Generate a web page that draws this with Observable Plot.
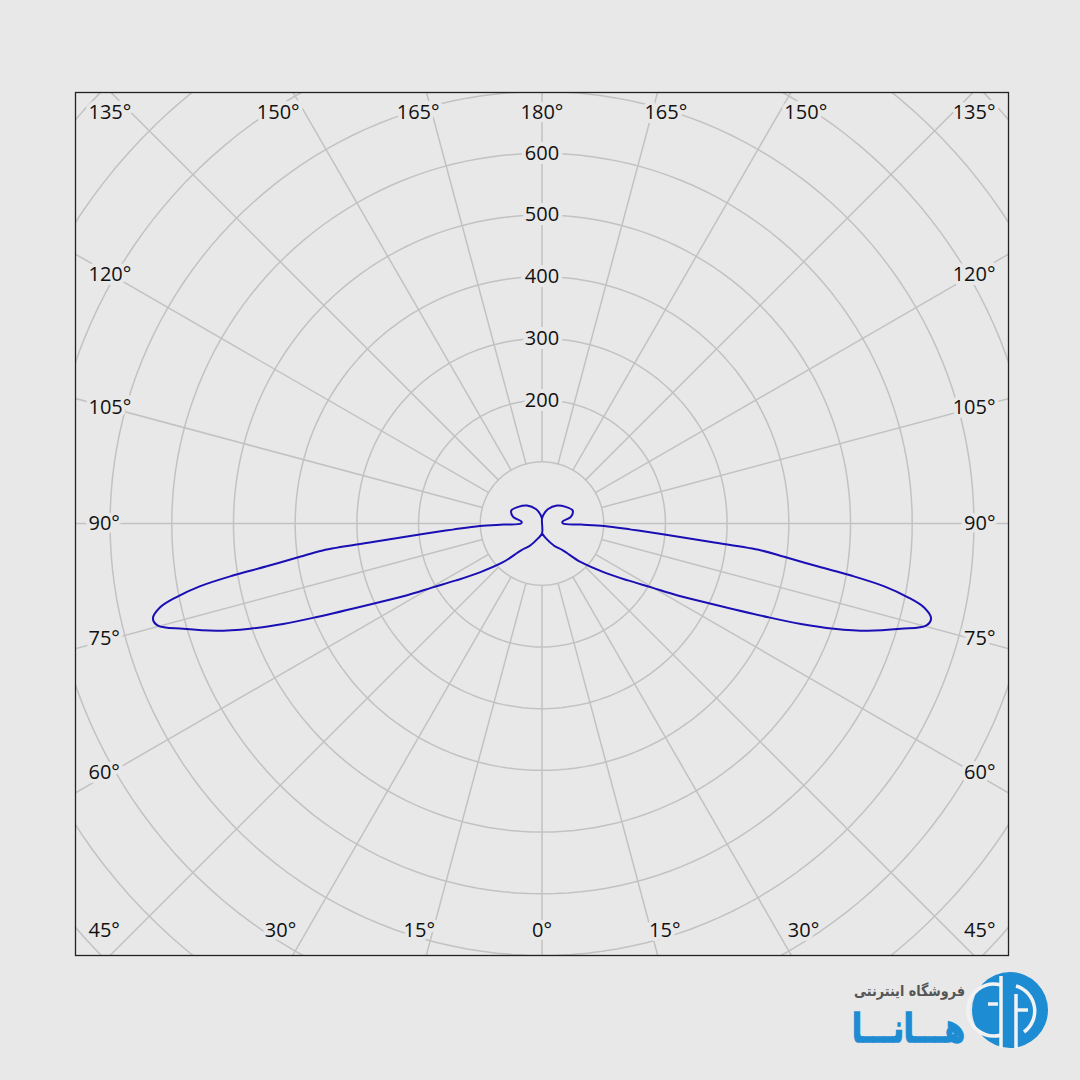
<!DOCTYPE html>
<html><head><meta charset="utf-8">
<script src="https://cdn.jsdelivr.net/npm/d3@7"></script>
<script src="https://cdn.jsdelivr.net/npm/@observablehq/plot@0.6"></script>
<style>
html,body{margin:0;padding:0;background:#e8e8e8;}
#wrap{position:relative;width:1080px;height:1080px;overflow:hidden;}
#logo{position:absolute;left:840px;top:965px;width:240px;height:110px;}
</style></head><body><div id="wrap"></div>
<script>
// Luminous intensity (cd) vs. gamma angle (degrees, 0 = straight down)
const gammaRight = [0, 15, 28.6, 37.9, 45.2, 51.85, 56.5, 59.7, 62.1, 64.6, 67.5, 68.8, 70.2, 71.8, 73.65, 75.1, 76.3,
  77.6, 78.6, 79.6, 80.45, 81.15, 82.2, 83.0, 83.75, 85.0, 86.1, 87.7, 88.5, 90,
  95, 103, 113, 125, 140, 158, 170, 180];
const candelaRight = [16, 25, 41, 55, 89, 128, 167, 205, 249, 303, 397, 450, 503, 556, 606, 644, 649,
  634, 605, 564, 508, 453, 396, 358, 276, 194, 145, 101, 63, 34,
  33, 48, 54, 47, 38, 25, 15, 8];
const gammaLeft = gammaRight.slice();
const candelaLeft = candelaRight.slice();

const ringValues = [100, 200, 300, 400, 500, 600, 700, 800, 900, 1000];
const ringLabels = [200, 300, 400, 500, 600];
const spokeAngles = [0, 15, 30, 45, 60, 75, 90, 105, 120, 135, 150, 165, 180, 195, 210, 225, 240, 255, 270, 285, 300, 315, 330, 345];
const labelAngles = [0, 15, 30, 45, 60, 75, 90, 105, 120, 135, 150, 165, 180];

const rad = Math.PI / 180;
const W = 1080, H = 1080, mT = 92, mL = 75, mR = 72, mB = 125;
const xHalf = 756, yTop = 698.5, yBot = 700;
const k = (W - mL - mR) / (2 * xHalf); // px per cd
const bg = "#e8e8e8";

// polar -> cartesian (gamma from downward vertical)
const curve = [];
gammaRight.forEach((g, i) => curve.push({x: candelaRight[i] * Math.sin(g * rad), y: -candelaRight[i] * Math.cos(g * rad)}));
gammaLeft.forEach((g, i) => curve.push({x: -candelaLeft[i] * Math.sin(g * rad), y: -candelaLeft[i] * Math.cos(g * rad)}));

const ringPts = [];
for (const r of ringValues) for (let a = 0; a <= 360; a += 2) ringPts.push({r, x: r * Math.sin(a * rad), y: r * Math.cos(a * rad)});

const spokes = spokeAngles.map(a => ({
  x1: 100 * Math.sin(a * rad), y1: -100 * Math.cos(a * rad),
  x2: 1200 * Math.sin(a * rad), y2: -1200 * Math.cos(a * rad)
}));

// degree labels placed where each spoke meets an inset rectangle
const HxPx = 431, HyTopPx = 411, HyBotPx = 407, sidePad = 13;
const sideLabels = [], midLabels = [];
for (const a of labelAngles) {
  for (const s of (a === 0 || a === 180) ? [1] : [1, -1]) {
    const sx = Math.sin(a * rad), cy = -Math.cos(a * rad);
    const tx = sx > 1e-9 ? HxPx / sx : Infinity;
    const ty = Math.abs(cy) > 1e-9 ? (cy < 0 ? HyBotPx : HyTopPx) / Math.abs(cy) : Infinity;
    const t = Math.min(tx, ty);
    const ypx = t * cy;
    if (a >= 45 && a <= 135) {
      sideLabels.push({x: s * (xHalf - sidePad / k), y: ypx / k, text: a + "°", anchor: s > 0 ? "end" : "start"});
    } else {
      const xpx = s * t * sx + s * 53 * sx;
      midLabels.push({x: xpx / k, y: ypx / k, text: a + "°"});
    }
  }
}

const textStyle = {fill: "#111", stroke: bg, strokeWidth: 8, fontSize: 20, fontFamily: "Open Sans"};

const plot = Plot.plot({
  width: W, height: H,
  marginTop: mT, marginLeft: mL, marginRight: mR, marginBottom: mB,
  x: {domain: [-xHalf, xHalf], axis: null},
  y: {domain: [-yBot, yTop], axis: null},
  style: {background: bg, fontFamily: "Open Sans"},
  marks: [
    Plot.line(ringPts, {x: "x", y: "y", z: "r", stroke: "#c2c2c2", strokeWidth: 1.5, clip: true}),
    Plot.link(spokes, {x1: "x1", y1: "y1", x2: "x2", y2: "y2", stroke: "#c2c2c2", strokeWidth: 1.5, clip: true}),
    Plot.line(curve, {x: "x", y: "y", stroke: "#1a0fb4", strokeWidth: 2, curve: "catmull-rom"}),
    Plot.text(ringLabels, {x: 0, y: d => d, text: d => String(d), ...textStyle}),
    Plot.text(midLabels, {x: "x", y: "y", text: "text", textAnchor: "middle", ...textStyle}),
    Plot.text(sideLabels.filter(d => d.anchor === "start"), {x: "x", y: "y", text: "text", textAnchor: "start", ...textStyle}),
    Plot.text(sideLabels.filter(d => d.anchor === "end"), {x: "x", y: "y", text: "text", textAnchor: "end", ...textStyle}),
    Plot.frame({stroke: "#222", strokeWidth: 1.3})
  ]
});
const wrap = document.getElementById("wrap");
wrap.appendChild(plot);

const logo = document.createElement("div");
logo.id = "logo";
const cx = 170, cy = 45, gap = "#f2f2f2";
logo.innerHTML = `<svg width="240" height="110" viewBox="0 0 240 110">
  <text x="125" y="31" text-anchor="end" font-family="DejaVu Sans" font-weight="bold" font-size="15" fill="#555" textLength="111" lengthAdjust="spacingAndGlyphs">فروشگاه اینترنتی</text>
  <text x="125" y="77" text-anchor="end" font-family="DejaVu Sans" font-weight="bold" font-size="40" fill="#1e8cd2" stroke="#1e8cd2" stroke-width="1.5" textLength="113" lengthAdjust="spacingAndGlyphs">هـــانـــا</text>
  <circle cx="${cx}" cy="${cy}" r="38" fill="#1e8cd2"/>
  <g stroke="${gap}" stroke-width="3.5" fill="none">
    <path d="M${cx - 9} ${cy - 25} A26 26 0 1 0 ${cx - 9} ${cy + 25}"/>
    <path d="M${cx - 9} ${cy - 34} L${cx - 9} ${cy + 38}"/>
    <path d="M${cx + 6} ${cy - 16} L${cx + 6} ${cy + 38}"/>
    <path d="M${cx + 6} ${cy - 24} A26 26 0 0 1 ${cx + 14} ${cy + 22}"/>
    <path d="M${cx + 6} ${cy} L${cx + 18} ${cy}"/>
    <path d="M${cx - 22} ${cy - 6} L${cx - 12} ${cy - 6}"/>
  </g>
</svg>`;
wrap.appendChild(logo);
</script></body></html>
